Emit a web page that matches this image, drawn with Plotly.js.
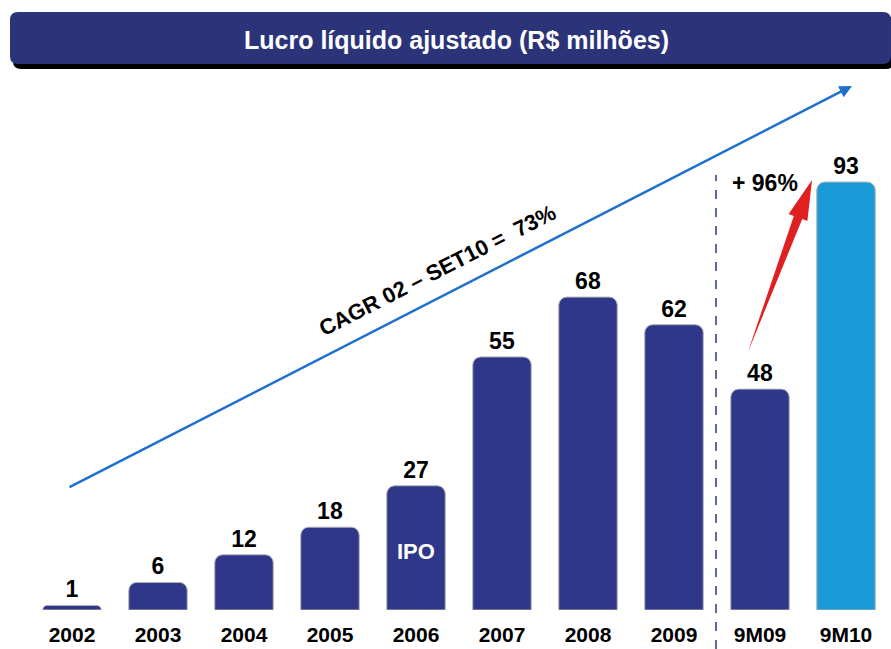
<!DOCTYPE html>
<html><head><meta charset="utf-8">
<script src="https://cdn.plot.ly/plotly-3.0.1.min.js"></script>
<style>html,body{margin:0;padding:0;background:#fff;}#chart{width:891px;height:649px;}</style>
</head><body><div id="chart"></div>
<script>
const categories = ['2002','2003','2004','2005','2006','2007','2008','2009','9M09','9M10'];
const values = [1, 6, 12, 18, 27, 55, 68, 62, 48, 93];
const barColors = ['#2e3789','#2e3789','#2e3789','#2e3789','#2e3789','#2e3789','#2e3789','#2e3789','#2e3789','#1b9ad8'];
const titleText = 'Lucro líquido ajustado (R$ milhões)';
const cagrText = 'CAGR 02 – SET10 =  73%';
const growthText = '+ 96%';
const ipoText = 'IPO';

const W = 891, H = 649, ML = 29, MR = 2, MT = 90, MB = 39;
const PW = W - ML - MR, PH = H - MT - MB;
function px(x){ return (x - ML) / PW; }
function py(y){ return (H - MB - y) / PH; }
function P(x,y){ return px(x).toFixed(4) + ',' + py(y).toFixed(4); }

function redArrow(tx,ty,hx,hy){
  const dx=hx-tx, dy=hy-ty, L=Math.hypot(dx,dy);
  const ux=dx/L, uy=dy/L, nx=-uy, ny=ux;
  const bx=tx+ux*(L-40), by=ty+uy*(L-40);
  const pts=[[tx,ty],[bx+nx*4.5,by+ny*4.5],[bx+nx*10,by+ny*10],[hx,hy],[bx-nx*10,by-ny*10],[bx-nx*4.5,by-ny*4.5]];
  return 'M' + pts.map(p=>P(p[0],p[1])).join(' L') + ' Z';
}
function roundRect(x0,y0,x1,y1,r){
  return 'M'+P(x0+r,y0)+' L'+P(x1-r,y0)+' Q'+P(x1,y0)+' '+P(x1,y0+r)+
         ' L'+P(x1,y1-r)+' Q'+P(x1,y1)+' '+P(x1-r,y1)+
         ' L'+P(x0+r,y1)+' Q'+P(x0,y1)+' '+P(x0,y1-r)+
         ' L'+P(x0,y0+r)+' Q'+P(x0,y0)+' '+P(x0+r,y0)+' Z';
}

const font = 'Liberation Sans, Arial, sans-serif';

const trace = {
  type:'bar', x:categories, y:values,
  marker:{color:barColors, cornerradius:8, line:{color:'#b5b5b5', width:1}},
  text:values.map(String), textposition:'outside', cliponaxis:false,
  textfont:{family:font, size:23, color:'#000', weight:'bold'},
  hoverinfo:'skip'
};

const layout = {
  width:W, height:H,
  margin:{l:ML, r:MR, t:MT, b:MB},
  paper_bgcolor:'#fff', plot_bgcolor:'#fff',
  showlegend:false, bargap:0.32,
  xaxis:{type:'category', range:[-0.5, categories.length-0.5], autorange:false, showgrid:false, zeroline:false, showline:false, ticks:'',
         tickfont:{family:font, size:21, color:'#000', weight:'bold'}, ticklabelstandoff:10},
  yaxis:{range:[0,113], autorange:false, visible:false, showgrid:false, zeroline:false},
  shapes:[
    {type:'path', xref:'paper', yref:'paper', path:roundRect(13,16,894,69,8), fillcolor:'#000', line:{width:0}},
    {type:'path', xref:'paper', yref:'paper', path:roundRect(10,12,891,64,8), fillcolor:'#2b3479', line:{width:0}},
    {type:'line', xref:'paper', yref:'paper', x0:px(716), x1:px(716), y0:py(649), y1:py(175), line:{color:'#2c3582', width:1.5, dash:'dash'}},
    {type:'path', xref:'paper', yref:'paper', path:redArrow(748,352,812,180), fillcolor:'#e02020', line:{width:0}}
  ],
  annotations:[
    {xref:'paper', yref:'paper', x:px(456), y:py(40), xanchor:'center', yanchor:'middle', text:titleText, showarrow:false,
     font:{family:font, size:25, color:'#fff', weight:'bold'}},
    {xref:'paper', yref:'paper', x:px(852), y:py(86), ax:-784, ay:402, text:'', showarrow:true,
     arrowhead:2, arrowsize:1, arrowwidth:2.5, arrowcolor:'#1e6fd0'},
    {xref:'paper', yref:'paper', x:px(437), y:py(270), xanchor:'center', yanchor:'middle', text:cagrText, showarrow:false, textangle:-27,
     font:{family:font, size:22, color:'#000', weight:'bold'}},
    {xref:'paper', yref:'paper', x:px(765), y:py(183), xanchor:'center', yanchor:'middle', text:growthText, showarrow:false,
     font:{family:font, size:23, color:'#000', weight:'bold'}},
    {xref:'paper', yref:'paper', x:px(416), y:py(551), xanchor:'center', yanchor:'middle', text:ipoText, showarrow:false,
     font:{family:font, size:22, color:'#fff', weight:'bold'}}
  ]
};
Plotly.newPlot('chart',[trace],layout,{staticPlot:true, displayModeBar:false});
</script></body></html>
